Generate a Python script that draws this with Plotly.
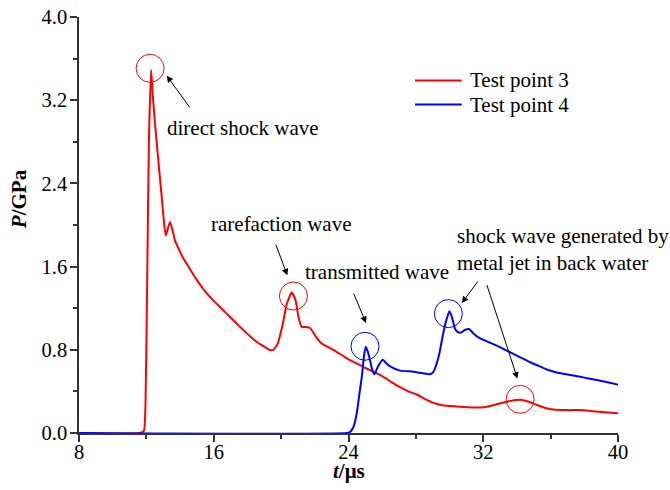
import plotly.graph_objects as go

# Test point 3 (red)
t3 = [8.0, 11.6, 11.85, 11.95, 12.05, 12.15, 12.28, 12.37, 12.5, 12.71, 12.91, 13.05,
      13.15, 13.25, 13.40, 13.55, 13.70, 13.95, 14.19, 14.5, 15.0, 15.5, 16.0, 16.5,
      17.0, 17.5, 18.15, 18.6, 19.0, 19.3, 19.54, 19.8, 20.1, 20.35, 20.63, 20.85,
      21.05, 21.22, 21.45, 21.72, 22.05, 22.41, 22.75, 23.1, 23.6, 24.09, 24.6, 25.08,
      25.6, 26.07, 26.55, 27.06, 27.55, 28.05, 28.5, 29.04, 29.5, 30.03, 30.82, 31.81,
      32.3, 32.8, 33.4, 33.8, 34.23, 34.7, 35.18, 35.7, 36.17, 37.0, 37.75, 38.5, 39.2, 40.0]
p3 = [0.0, 0.0, 0.02, 0.3, 1.5, 2.8, 3.49, 3.27, 3.0, 2.62, 2.27, 2.02,
      1.90, 1.95, 2.03, 1.95, 1.85, 1.76, 1.68, 1.60, 1.47, 1.36, 1.27, 1.19,
      1.11, 1.03, 0.93, 0.87, 0.83, 0.80, 0.80, 0.86, 1.05, 1.25, 1.35, 1.28,
      1.10, 1.02, 1.02, 1.01, 0.93, 0.86, 0.83, 0.80, 0.75, 0.70, 0.66, 0.62,
      0.58, 0.54, 0.49, 0.44, 0.40, 0.37, 0.33, 0.29, 0.27, 0.26, 0.25, 0.245,
      0.255, 0.276, 0.30, 0.315, 0.32, 0.30, 0.27, 0.24, 0.225, 0.22, 0.22, 0.21, 0.20, 0.19]

# Test point 4 (blue)
t4 = [8.0, 23.9, 24.09, 24.3, 24.49, 24.65, 24.79, 24.92, 25.02, 25.15, 25.28, 25.42,
      25.54, 25.75, 26.03, 26.25, 26.47, 27.06, 27.85, 28.4, 28.84, 29.05, 29.24, 29.4,
      29.54, 29.75, 29.99, 30.15, 30.33, 30.5, 30.67, 30.9, 31.16, 31.4, 31.71, 32.3,
      32.8, 33.3, 33.79, 34.3, 34.78, 35.3, 35.77, 36.3, 36.76, 37.25, 37.75, 38.25,
      38.74, 39.3, 39.87, 40.0]
p4 = [0.0, 0.0, 0.01, 0.06, 0.19, 0.38, 0.54, 0.74, 0.83, 0.78, 0.70, 0.60,
      0.565, 0.64, 0.705, 0.67, 0.64, 0.60, 0.59, 0.575, 0.565, 0.59, 0.67, 0.77,
      0.89, 1.05, 1.17, 1.11, 1.00, 0.97, 0.965, 0.99, 1.00, 0.96, 0.92, 0.875,
      0.84, 0.80, 0.76, 0.72, 0.68, 0.645, 0.61, 0.585, 0.57, 0.555, 0.54, 0.525,
      0.51, 0.49, 0.47, 0.465]

series_names = ["Test point 3", "Test point 4"]
x_ticks = [8, 16, 24, 32, 40]
y_ticks = [0.0, 0.8, 1.6, 2.4, 3.2, 4.0]

# circled features: (t, P, colour)
marked = [(12.22, 3.507, "red"), (20.73, 1.317, "red"), (34.19, 0.324, "red"),
          (24.98, 0.834, "blue"), (29.93, 1.148, "blue")]

FONT = "Liberation Serif"
TXT = 21
X0, X1, Y0, Y1 = 8, 40, 0, 4.0
PLOT_W, PLOT_H = 539, 416
px_x = (X1 - X0) / PLOT_W   # data units per pixel
px_y = (Y1 - Y0) / PLOT_H

fig = go.Figure()
fig.add_trace(go.Scatter(x=t3, y=p3, mode="lines", name=series_names[0],
                         line=dict(color="#ff0000", width=2, shape="spline", smoothing=0.5)))
fig.add_trace(go.Scatter(x=t4, y=p4, mode="lines", name=series_names[1],
                         line=dict(color="#0000ff", width=2, shape="spline", smoothing=0.5)))

shapes = []
r = 14
for cx, cy, col in marked:
    shapes.append(dict(type="circle", xref="x", yref="y",
                       x0=cx - r * px_x, x1=cx + r * px_x,
                       y0=cy - r * px_y, y1=cy + r * px_y,
                       line=dict(color=col, width=1)))

# hand-drawn legend
leg_x0, leg_x1 = 27.95, 30.72
leg_y = [3.39, 3.158]
for yy, col in zip(leg_y, ["#ff0000", "#0000ff"]):
    shapes.append(dict(type="line", xref="x", yref="y", x0=leg_x0, x1=leg_x1,
                       y0=yy, y1=yy, line=dict(color=col, width=2)))

annotations = []
for yy, name in zip(leg_y, series_names):
    annotations.append(dict(x=31.1, y=yy, xref="x", yref="y", text=name, showarrow=False,
                            xanchor="left", yanchor="middle",
                            font=dict(family=FONT, size=TXT, color="black")))

labels = [(13.11, 2.93, "direct shock wave"),
          (15.72, 2.014, "rarefaction wave"),
          (21.30, 1.548, "transmitted wave"),
          (30.33, 1.76, "shock wave generated by<br>metal jet in back water")]
for lx, ly, txt in labels:
    annotations.append(dict(x=lx, y=ly, xref="x", yref="y", text=txt, showarrow=False,
                            xanchor="left", yanchor="middle", align="left",
                            font=dict(family=FONT, size=TXT, color="black")))

# arrows: head position (data) and tail offset (pixels)
arrows = [(13.21, 3.435, 24, 33), (20.37, 1.516, -12, -32), (25.04, 1.058, -13, -31),
          (30.73, 1.25, 17, -23), (34.03, 0.523, -31, -95)]
for hx, hy, ax, ay in arrows:
    annotations.append(dict(x=hx, y=hy, xref="x", yref="y", ax=ax, ay=ay, text="",
                            showarrow=True, arrowhead=2, arrowsize=1.3, arrowwidth=1,
                            arrowcolor="black"))

# axis titles
annotations.append(dict(x=0.501, y=-0.091, xref="paper", yref="paper",
                        text="<b><i>t</i>/μs</b>", showarrow=False,
                        xanchor="center", yanchor="middle",
                        font=dict(family=FONT, size=TXT, color="black")))
annotations.append(dict(x=-0.111, y=0.5625, xref="paper", yref="paper",
                        text="<b><i>P</i>/GPa</b>", showarrow=False, textangle=-90,
                        xanchor="center", yanchor="middle",
                        font=dict(family=FONT, size=TXT, color="black")))

axis_common = dict(showline=True, linecolor="#333333", linewidth=1.5, ticks="outside",
                   ticklen=7, tickwidth=1.5, tickcolor="#333333", showgrid=False,
                   zeroline=False, mirror=False, automargin=False,
                   tickfont=dict(family=FONT, size=20.5, color="black"))

fig.update_layout(
    width=670, height=490,
    margin=dict(l=79, r=52, t=17, b=57, autoexpand=False),
    plot_bgcolor="white", paper_bgcolor="white",
    showlegend=False,
    shapes=shapes, annotations=annotations,
    xaxis=dict(range=[X0, X1], tickvals=x_ticks, ticktext=[str(v) for v in x_ticks],
               ticklabelstandoff=-7,
               minor=dict(ticks="outside", ticklen=4, tickwidth=1.5, tickcolor="#333333",
                          dtick=4, tick0=8),
               **axis_common),
    yaxis=dict(range=[Y0, Y1], tickvals=y_ticks, ticktext=[f"{v:.1f}" for v in y_ticks],
               ticklabelstandoff=-1,
               minor=dict(ticks="outside", ticklen=4, tickwidth=1.5, tickcolor="#333333",
                          dtick=0.4, tick0=0),
               **axis_common),
)

fig.write_html("out.html")
